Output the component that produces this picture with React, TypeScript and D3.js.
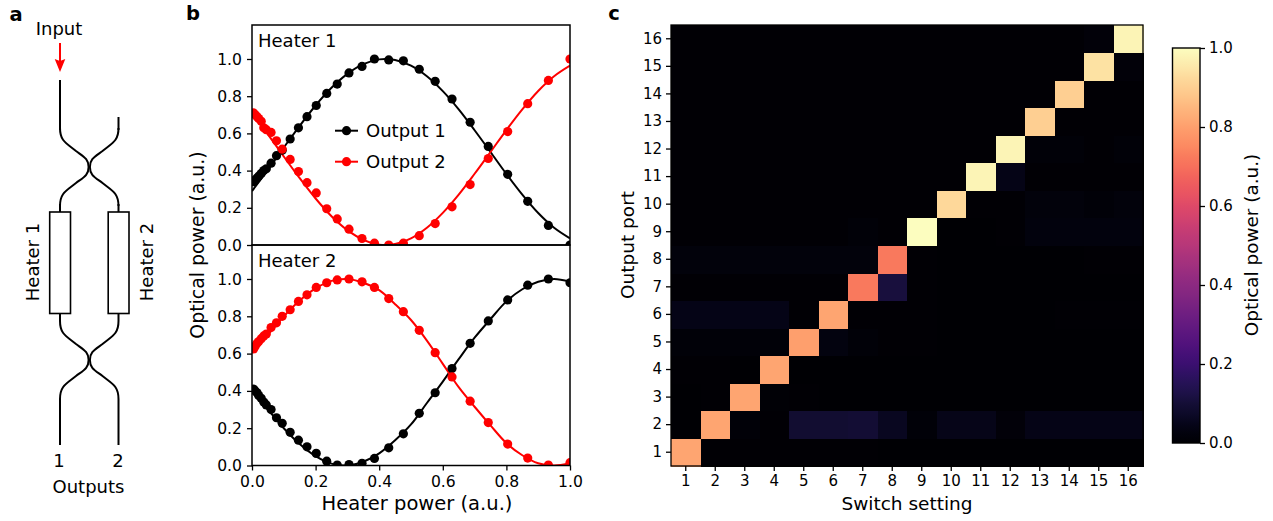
import React, { useEffect, useRef } from 'react';
import * as d3 from 'd3';

const width = 1273;
const height = 521;
const font = '"DejaVu Sans", sans-serif';

// heater sweep positions of the measured points
const sweep = [0.005, 0.01, 0.016, 0.021, 0.029, 0.037, 0.045, 0.06, 0.077, 0.095, 0.12, 0.146, 0.173, 0.202, 0.235, 0.268, 0.305, 0.346, 0.385, 0.43, 0.476, 0.526, 0.576, 0.629, 0.686, 0.743, 0.804, 0.867, 0.932, 1.0];
const h1Out1 = [0.34, 0.35, 0.36, 0.37, 0.385, 0.4, 0.41, 0.44, 0.48, 0.51, 0.57, 0.63, 0.69, 0.75, 0.815, 0.865, 0.925, 0.96, 1.0, 0.995, 0.99, 0.945, 0.88, 0.785, 0.66, 0.53, 0.38, 0.235, 0.105, 0.0];
const h1Out2 = [0.71, 0.7, 0.69, 0.68, 0.665, 0.63, 0.62, 0.605, 0.56, 0.515, 0.46, 0.395, 0.335, 0.28, 0.195, 0.14, 0.085, 0.035, 0.01, 0.0, 0.01, 0.05, 0.115, 0.205, 0.325, 0.465, 0.61, 0.76, 0.885, 1.0];
const h2Out1 = [0.41, 0.4, 0.39, 0.375, 0.36, 0.34, 0.325, 0.3, 0.256, 0.226, 0.178, 0.136, 0.1, 0.065, 0.023, 0.002, 0.005, 0.012, 0.038, 0.095, 0.17, 0.28, 0.39, 0.52, 0.655, 0.775, 0.888, 0.967, 1.0, 0.98];
const h2Out2 = [0.625, 0.64, 0.655, 0.665, 0.68, 0.695, 0.705, 0.74, 0.765, 0.8, 0.835, 0.88, 0.915, 0.955, 0.98, 0.995, 1.0, 0.985, 0.955, 0.895, 0.825, 0.725, 0.605, 0.475, 0.345, 0.23, 0.115, 0.04, 0.002, 0.015];

// fitted curves, read every 0.05
const fitX = [0, 0.05, 0.1, 0.15, 0.2, 0.25, 0.3, 0.35, 0.4, 0.45, 0.5, 0.55, 0.6, 0.65, 0.7, 0.75, 0.8, 0.85, 0.9, 0.95, 1.0];
const h1Fit1 = [0.29, 0.405, 0.524, 0.641, 0.75, 0.845, 0.92, 0.972, 0.998, 0.995, 0.964, 0.907, 0.827, 0.729, 0.617, 0.5, 0.382, 0.271, 0.172, 0.093, 0.036];
const h1Fit2 = [0.71, 0.595, 0.476, 0.359, 0.25, 0.155, 0.08, 0.028, 0.002, 0.005, 0.036, 0.093, 0.173, 0.271, 0.383, 0.5, 0.618, 0.729, 0.828, 0.907, 0.964];
const h2Fit1 = [0.395, 0.3, 0.2, 0.115, 0.05, 0.01, 0.0, 0.02, 0.065, 0.135, 0.22, 0.335, 0.45, 0.57, 0.685, 0.785, 0.88, 0.945, 0.985, 1.0, 0.985];
const h2Fit2 = [0.605, 0.7, 0.8, 0.885, 0.95, 0.99, 1.0, 0.98, 0.94, 0.865, 0.78, 0.67, 0.545, 0.42, 0.315, 0.215, 0.12, 0.055, 0.012, 0.0, 0.012];

const ports = d3.range(1, 17);
// rows run from output port 1 upwards, columns are switch settings 1 to 16
const power = [
  [0.81, 0.006, 0.004, 0.004, 0.004, 0.005, 0.004, 0.003, 0.003, 0.003, 0.003, 0.003, 0.003, 0.003, 0.003, 0.003],
  [0.003, 0.81, 0.015, 0.006, 0.09, 0.09, 0.095, 0.06, 0.012, 0.045, 0.045, 0.018, 0.04, 0.04, 0.04, 0.04],
  [0.003, 0.004, 0.81, 0.01, 0.004, 0.003, 0.003, 0.003, 0.003, 0.003, 0.003, 0.003, 0.003, 0.003, 0.003, 0.003],
  [0.004, 0.005, 0.003, 0.81, 0.003, 0.003, 0.003, 0.003, 0.003, 0.003, 0.003, 0.003, 0.003, 0.003, 0.003, 0.003],
  [0.015, 0.015, 0.015, 0.015, 0.8, 0.028, 0.014, 0.006, 0.004, 0.003, 0.003, 0.003, 0.003, 0.003, 0.003, 0.003],
  [0.04, 0.04, 0.04, 0.04, 0.004, 0.81, 0.006, 0.004, 0.004, 0.003, 0.003, 0.003, 0.003, 0.004, 0.004, 0.004],
  [0.004, 0.004, 0.004, 0.004, 0.004, 0.004, 0.72, 0.11, 0.004, 0.003, 0.003, 0.003, 0.003, 0.003, 0.003, 0.003],
  [0.02, 0.02, 0.02, 0.02, 0.02, 0.02, 0.02, 0.72, 0.004, 0.003, 0.003, 0.003, 0.003, 0.003, 0.004, 0.004],
  [0.004, 0.004, 0.004, 0.004, 0.004, 0.004, 0.014, 0.006, 1.0, 0.003, 0.003, 0.004, 0.025, 0.025, 0.025, 0.025],
  [0.004, 0.004, 0.004, 0.004, 0.004, 0.004, 0.004, 0.004, 0.004, 0.92, 0.004, 0.004, 0.02, 0.02, 0.014, 0.02],
  [0.004, 0.004, 0.004, 0.004, 0.004, 0.004, 0.004, 0.004, 0.004, 0.004, 0.98, 0.04, 0.004, 0.004, 0.004, 0.004],
  [0.004, 0.004, 0.004, 0.004, 0.004, 0.004, 0.004, 0.004, 0.004, 0.004, 0.004, 0.98, 0.014, 0.014, 0.006, 0.014],
  [0.004, 0.004, 0.004, 0.004, 0.004, 0.004, 0.004, 0.004, 0.004, 0.004, 0.004, 0.004, 0.9, 0.006, 0.004, 0.004],
  [0.004, 0.004, 0.004, 0.004, 0.004, 0.004, 0.004, 0.004, 0.004, 0.004, 0.004, 0.004, 0.004, 0.9, 0.004, 0.004],
  [0.004, 0.004, 0.004, 0.004, 0.004, 0.004, 0.004, 0.004, 0.004, 0.004, 0.004, 0.004, 0.004, 0.004, 0.94, 0.018],
  [0.004, 0.004, 0.004, 0.004, 0.004, 0.004, 0.004, 0.004, 0.004, 0.004, 0.004, 0.004, 0.004, 0.004, 0.018, 0.98],
];

const panels = [
  { name: 'Heater 1', top: 25, zero: 245, one: 59, id: 'h1', pts: [h1Out1, h1Out2], fits: [h1Fit1, h1Fit2] },
  { name: 'Heater 2', top: 245, zero: 465.5, one: 279, id: 'h2', pts: [h2Out1, h2Out2], fits: [h2Fit1, h2Fit2] },
];
const seriesColor = ['#000000', '#ff0000'];

// one coupler: two waveguides that bend in, touch and bend out again
function coupler(g, yc) {
  const half = (x0, dir) => {
    const p = d3.path();
    const inner = x0 + dir * 28.6;
    p.moveTo(x0, yc - 39);
    p.bezierCurveTo(x0, yc - 26, x0 + dir * 6, yc - 24, x0 + dir * 16, yc - 16);
    p.bezierCurveTo(x0 + dir * 24, yc - 10, inner, yc - 8, inner, yc);
    p.bezierCurveTo(inner, yc + 8, x0 + dir * 24, yc + 10, x0 + dir * 16, yc + 16);
    p.bezierCurveTo(x0 + dir * 6, yc + 24, x0, yc + 26, x0, yc + 39);
    return p.toString();
  };
  g.append('path').attr('d', half(60, 1)).attr('fill', 'none').attr('stroke', '#000').attr('stroke-width', 2);
  g.append('path').attr('d', half(118.5, -1)).attr('fill', 'none').attr('stroke', '#000').attr('stroke-width', 2);
}

function label(g, txt, x, y, opts: any = {}) {
  g.append('text')
    .attr('transform', `translate(${x},${y})${opts.rotate ? ' rotate(-90)' : ''}`)
    .attr('text-anchor', opts.anchor || 'middle')
    .attr('font-family', font)
    .attr('font-size', opts.size || 18)
    .attr('font-weight', opts.bold ? 'bold' : 'normal')
    .attr('fill', '#000')
    .text(txt);
}

function styleAxis(sel, size = 15.6) {
  sel.selectAll('text').attr('font-family', font).attr('font-size', size).attr('fill', '#000');
  sel.selectAll('line').attr('stroke', '#000').attr('stroke-width', 1.3);
  sel.select('.domain').remove();
}

const App = () => {
  const ref = useRef(null);

  useEffect(() => {
    const svg = d3.select(ref.current);
    svg.selectAll('*').remove();

    // ---- panel a
    const a = svg.append('g');
    label(a, 'a', 16, 21, { bold: true, size: 19.5 });
    label(a, 'Input', 59, 35);
    a.append('line').attr('x1', 60).attr('x2', 60).attr('y1', 43).attr('y2', 62).attr('stroke', '#f00').attr('stroke-width', 2);
    a.append('path').attr('d', 'M54.7,59 L60,61 L65.3,59 L60,72 Z').attr('fill', '#f00');
    const wires: number[][] = [[60, 80, 130], [118.5, 117, 130], [60, 204, 212], [118.5, 204, 212], [60, 314, 321], [118.5, 314, 321], [60, 399, 445], [118.5, 399, 445]];
    wires.forEach(([x, y1, y2]) => {
      a.append('line').attr('x1', x).attr('x2', x).attr('y1', y1).attr('y2', y2).attr('stroke', '#000').attr('stroke-width', 2);
    });
    coupler(a, 167);
    coupler(a, 360);
    [49.7, 108.2].forEach((x) => {
      a.append('rect').attr('x', x).attr('y', 212).attr('width', 20.8).attr('height', 101.5)
        .attr('fill', '#fff').attr('stroke', '#000').attr('stroke-width', 1.6);
    });
    label(a, 'Heater 1', 39, 262, { rotate: true });
    label(a, 'Heater 2', 153, 262, { rotate: true });
    label(a, '1', 59, 467);
    label(a, '2', 118, 467);
    label(a, 'Outputs', 88.5, 493);

    // ---- panel b
    const b = svg.append('g');
    label(b, 'b', 193, 20, { bold: true, size: 19.5 });
    const x = d3.scaleLinear().domain([0, 1]).range([252, 570]);
    const defs = svg.append('defs');

    panels.forEach((p) => {
      const y = d3.scaleLinear().domain([0, 1]).range([p.zero, p.one]);
      defs.append('clipPath').attr('id', p.id).append('rect')
        .attr('x', 252).attr('y', p.top).attr('width', 318).attr('height', p.zero - p.top);
      const plot = b.append('g').attr('clip-path', `url(#${p.id})`);
      const line = d3.line<number>().x((_, i) => x(fitX[i])).y((d) => y(d)).curve(d3.curveCatmullRom);
      p.fits.forEach((fit, s) => {
        plot.append('path').attr('d', line(fit)).attr('fill', 'none').attr('stroke', seriesColor[s]).attr('stroke-width', 2);
      });
      p.pts.forEach((vals, s) => {
        plot.selectAll(null).data(vals).enter().append('circle')
          .attr('cx', (_, i) => x(sweep[i])).attr('cy', (d) => y(d)).attr('r', 4.6).attr('fill', seriesColor[s]);
      });
      b.append('rect').attr('x', 252).attr('y', p.top).attr('width', 318).attr('height', p.zero - p.top)
        .attr('fill', 'none').attr('stroke', '#000').attr('stroke-width', 1.5);
      b.append('g').attr('transform', 'translate(252,0)')
        .call(d3.axisLeft(y).tickValues([0, 0.2, 0.4, 0.6, 0.8, 1]).tickFormat(d3.format('.1f')).tickSize(5).tickPadding(5))
        .call(styleAxis);
      label(b, p.name, 258, p.top + 22, { anchor: 'start' });
    });
    b.append('g').attr('transform', 'translate(0,465.5)')
      .call(d3.axisBottom(x).tickValues([0, 0.2, 0.4, 0.6, 0.8, 1]).tickFormat(d3.format('.1f')).tickSize(5).tickPadding(5))
      .call(styleAxis);
    label(b, 'Optical power (a.u.)', 204, 245, { rotate: true, size: 18.9 });
    label(b, 'Heater power (a.u.)', 417, 510, { size: 19.5 });

    // legend
    ['Output 1', 'Output 2'].forEach((name, i) => {
      const yy = 130.7 + i * 31;
      b.append('line').attr('x1', 335).attr('x2', 358).attr('y1', yy).attr('y2', yy).attr('stroke', seriesColor[i]).attr('stroke-width', 2);
      b.append('circle').attr('cx', 346.5).attr('cy', yy).attr('r', 4.6).attr('fill', seriesColor[i]);
      label(b, name, 366, yy + 6.5, { anchor: 'start' });
    });

    // ---- panel c
    const c = svg.append('g');
    label(c, 'c', 614, 20, { bold: true, size: 19.5 });
    const cx = d3.scaleBand<number>().domain(ports).range([671, 1143]);
    const cy = d3.scaleBand<number>().domain(ports).range([466, 25]);
    power.forEach((row, r) => {
      c.selectAll(null).data(row).enter().append('rect')
        .attr('x', (_, i) => cx(ports[i]))
        .attr('y', cy(ports[r]))
        .attr('width', cx.bandwidth() + 0.5)
        .attr('height', cy.bandwidth() + 0.5)
        .attr('shape-rendering', 'crispEdges')
        .attr('fill', (d) => d3.interpolateMagma(d));
    });
    c.append('rect').attr('x', 671).attr('y', 25).attr('width', 472).attr('height', 441)
      .attr('fill', 'none').attr('stroke', '#000').attr('stroke-width', 1.3);
    c.append('g').attr('transform', 'translate(0,466)')
      .call(d3.axisBottom(cx).tickSize(5).tickPadding(4))
      .call(styleAxis, 15);
    c.append('g').attr('transform', 'translate(671,0)')
      .call(d3.axisLeft(cy).tickSize(5).tickPadding(4))
      .call(styleAxis, 15);
    label(c, 'Switch setting', 907, 510, { size: 18.5 });
    label(c, 'Output port', 634, 245, { rotate: true, size: 18.5 });

    // colorbar
    const cb = d3.scaleLinear().domain([0, 1]).range([443, 48]);
    const grad = defs.append('linearGradient').attr('id', 'magma').attr('x1', 0).attr('x2', 0).attr('y1', 1).attr('y2', 0);
    d3.range(0, 1.001, 1 / 40).forEach((t) => {
      grad.append('stop').attr('offset', t).attr('stop-color', d3.interpolateMagma(t));
    });
    c.append('rect').attr('x', 1172.5).attr('y', 48).attr('width', 27.5).attr('height', 395)
      .attr('fill', 'url(#magma)').attr('stroke', '#000').attr('stroke-width', 1.4);
    c.append('g').attr('transform', 'translate(1200,0)')
      .call(d3.axisRight(cb).tickValues([0, 0.2, 0.4, 0.6, 0.8, 1]).tickFormat(d3.format('.1f')).tickSize(5).tickPadding(4))
      .call(styleAxis, 15);
    label(c, 'Optical power (a.u.)', 1258, 245, { rotate: true, size: 18.4 });
  }, []);

  return (
    <svg ref={ref} width={width} height={height} style={{ position: 'absolute', left: 0, top: 0, display: 'block', background: '#fff' }} />
  );
};

export default App;
